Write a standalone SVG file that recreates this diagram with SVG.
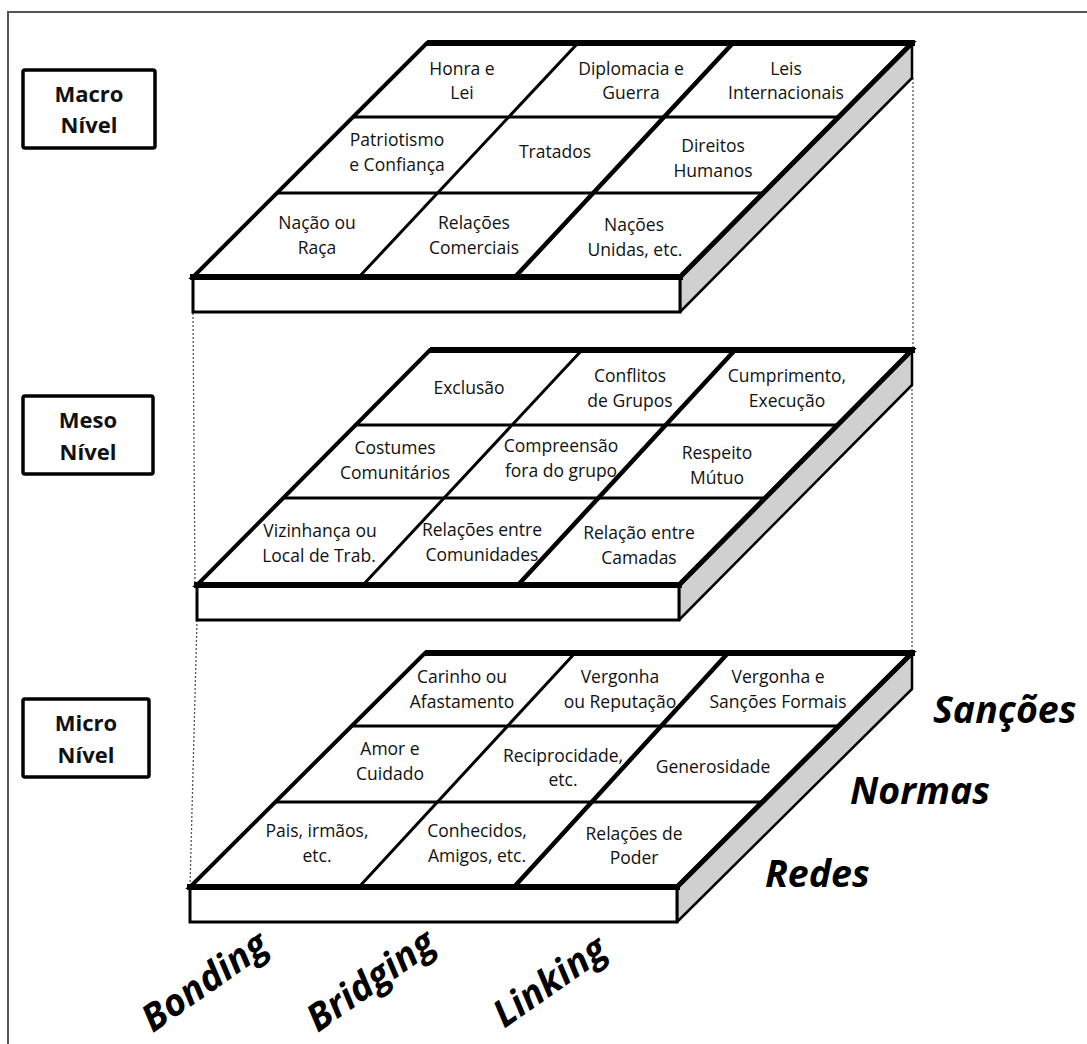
<svg xmlns="http://www.w3.org/2000/svg" width="1087" height="1044" viewBox="0 0 1087 1044">
<style>
.bg{fill:#fff}
.frame{fill:none;stroke:#555;stroke-width:2}
.face{fill:#fff;stroke:#000;stroke-width:4;stroke-linejoin:miter}
.front{fill:#fff;stroke:#000;stroke-width:3}
.side{fill:#d0d0d0;stroke:#000;stroke-width:2.5;stroke-linejoin:round}
.thick{stroke:#000;stroke-width:6;fill:none;stroke-linecap:square}
.edge{stroke:#000;stroke-width:5;fill:none;stroke-linecap:round}
.grid{stroke:#000;stroke-width:3;fill:none}
.grid2{stroke:#000;stroke-width:4.5;fill:none}
.cell{font-family:"Open Sans","Noto Sans",sans-serif;font-size:17.5px;fill:#111;text-anchor:middle}
.lvl rect{fill:#fff;stroke:#000;stroke-width:3.5}
.lvl text{font-family:"Open Sans","Noto Sans",sans-serif;font-weight:bold;font-size:22px;fill:#111;text-anchor:middle}
.big{font-family:"Open Sans","Noto Sans",sans-serif;font-weight:bold;font-style:italic;font-size:37.5px;fill:#000}
.dot{stroke:#555;stroke-width:1.3;stroke-dasharray:2 2;fill:none}
</style>
<rect class="bg" x="0" y="0" width="1087" height="1044"/>
<path class="frame" d="M8,1044 V12 H1087"/>

<g id="connectors">
<line class="dot" x1="193" y1="313" x2="195" y2="585"/>
<line class="dot" x1="913" y1="78" x2="913" y2="350"/>
<line class="dot" x1="197" y1="620" x2="190" y2="887"/>
<line class="dot" x1="912" y1="385" x2="912" y2="653"/>
</g>

<g id="macro-label" class="lvl">
<rect x="23" y="70" width="132" height="78" rx="2"/>
<text x="89" y="102">Macro</text>
<text x="89" y="133">Nível</text>
</g>
<g id="meso-label" class="lvl">
<rect x="23" y="396" width="130" height="78" rx="2"/>
<text x="88" y="428">Meso</text>
<text x="88" y="460">Nível</text>
</g>
<g id="micro-label" class="lvl">
<rect x="23" y="699" width="126" height="78" rx="2"/>
<text x="86" y="731">Micro</text>
<text x="86" y="763">Nível</text>
</g>

<!-- Macro slab -->
<g id="macro-slab">
<polygon class="side" points="680,277 912,43 912,78 680,312"/>
<rect class="front" x="193" y="277" width="487" height="35"/>
<polygon class="face" points="427,43 912,43 680,277 193,277"/>
<line class="grid" x1="353" y1="117" x2="838" y2="117"/>
<line class="grid" x1="277" y1="193" x2="763" y2="193"/>
<line class="grid" x1="578" y1="43" x2="359" y2="277"/>
<line class="grid2" x1="733" y1="43" x2="515" y2="277"/>
<line class="thick" x1="430" y1="43" x2="912" y2="43"/>
<line class="thick" x1="193" y1="277" x2="680" y2="277"/>
<line class="edge" x1="912" y1="43" x2="680" y2="277"/>
<g id="macro-c1" class="cell"><text x="462" y="75">Honra e</text><text x="462" y="99">Lei</text></g>
<g id="macro-c2" class="cell"><text x="631" y="75">Diplomacia e</text><text x="631" y="99">Guerra</text></g>
<g id="macro-c3" class="cell"><text x="786" y="75">Leis</text><text x="786" y="99">Internacionais</text></g>
<g id="macro-c4" class="cell"><text x="397" y="146">Patriotismo</text><text x="397" y="171">e Confiança</text></g>
<g id="macro-c5" class="cell"><text x="555" y="158">Tratados</text></g>
<g id="macro-c6" class="cell"><text x="713" y="152">Direitos</text><text x="713" y="177">Humanos</text></g>
<g id="macro-c7" class="cell"><text x="317" y="229">Nação ou</text><text x="317" y="254">Raça</text></g>
<g id="macro-c8" class="cell"><text x="474" y="229">Relações</text><text x="474" y="254">Comerciais</text></g>
<g id="macro-c9" class="cell"><text x="634" y="231">Nações</text><text x="635" y="256">Unidas, etc.</text></g>
</g>

<!-- Meso slab -->
<g id="meso-slab">
<polygon class="side" points="679,585 912,350 912,385 679,620"/>
<rect class="front" x="197" y="585" width="482" height="35"/>
<polygon class="face" points="430,350 912,350 679,585 197,585"/>
<line class="grid" x1="356" y1="425" x2="838" y2="425"/>
<line class="grid" x1="283" y1="498" x2="765" y2="498"/>
<line class="grid" x1="582" y1="350" x2="363" y2="585"/>
<line class="grid2" x1="735" y1="350" x2="518" y2="585"/>
<line class="thick" x1="433" y1="350" x2="912" y2="350"/>
<line class="thick" x1="197" y1="585" x2="679" y2="585"/>
<line class="edge" x1="912" y1="350" x2="679" y2="585"/>
<g id="meso-c1" class="cell"><text x="469" y="394">Exclusão</text></g>
<g id="meso-c2" class="cell"><text x="630" y="382">Conflitos</text><text x="630" y="407">de Grupos</text></g>
<g id="meso-c3" class="cell"><text x="787" y="382">Cumprimento,</text><text x="787" y="407">Execução</text></g>
<g id="meso-c4" class="cell"><text x="395" y="454">Costumes</text><text x="395" y="479">Comunitários</text></g>
<g id="meso-c5" class="cell"><text x="561" y="452">Compreensão</text><text x="561" y="477">fora do grupo</text></g>
<g id="meso-c6" class="cell"><text x="717" y="459">Respeito</text><text x="717" y="484">Mútuo</text></g>
<g id="meso-c7" class="cell"><text x="320" y="537">Vizinhança ou</text><text x="319" y="562">Local de Trab.</text></g>
<g id="meso-c8" class="cell"><text x="482" y="536">Relações entre</text><text x="482" y="561">Comunidades</text></g>
<g id="meso-c9" class="cell"><text x="639" y="539">Relação entre</text><text x="639" y="564">Camadas</text></g>
</g>

<!-- Micro slab -->
<g id="micro-slab">
<polygon class="side" points="677,887 912,653 912,689 677,922"/>
<rect class="front" x="190" y="887" width="487" height="35"/>
<polygon class="face" points="425,653 912,653 677,887 190,887"/>
<line class="grid" x1="352" y1="726" x2="839" y2="726"/>
<line class="grid" x1="276" y1="802" x2="762" y2="802"/>
<line class="grid" x1="575" y1="653" x2="359" y2="887"/>
<line class="grid2" x1="728" y1="653" x2="514" y2="887"/>
<line class="thick" x1="428" y1="653" x2="912" y2="653"/>
<line class="thick" x1="190" y1="887" x2="677" y2="887"/>
<line class="edge" x1="912" y1="653" x2="677" y2="887"/>
<g id="micro-c1" class="cell"><text x="462" y="683">Carinho ou</text><text x="462" y="708">Afastamento</text></g>
<g id="micro-c2" class="cell"><text x="620" y="683">Vergonha</text><text x="620" y="708">ou Reputação</text></g>
<g id="micro-c3" class="cell"><text x="778" y="683">Vergonha e</text><text x="778" y="708">Sanções Formais</text></g>
<g id="micro-c4" class="cell"><text x="390" y="755">Amor e</text><text x="390" y="780">Cuidado</text></g>
<g id="micro-c5" class="cell"><text x="563" y="762">Reciprocidade,</text><text x="563" y="786">etc.</text></g>
<g id="micro-c6" class="cell"><text x="713" y="773">Generosidade</text></g>
<g id="micro-c7" class="cell"><text x="317" y="837">Pais, irmãos,</text><text x="317" y="862">etc.</text></g>
<g id="micro-c8" class="cell"><text x="477" y="837">Conhecidos,</text><text x="477" y="862">Amigos, etc.</text></g>
<g id="micro-c9" class="cell"><text x="634" y="840">Relações de</text><text x="634" y="864">Poder</text></g>
</g>

<g id="axis-labels">
<text class="big" x="933" y="723">Sanções</text>
<text class="big" x="850" y="804">Normas</text>
<text class="big" x="765" y="887">Redes</text>
<text class="big" text-anchor="middle" transform="translate(205,982) rotate(-35)" y="12">Bonding</text>
<text class="big" text-anchor="middle" transform="translate(371,981) rotate(-35)" y="12">Bridging</text>
<text class="big" text-anchor="middle" transform="translate(550,982) rotate(-35)" y="12">Linking</text>
</g>
</svg>
